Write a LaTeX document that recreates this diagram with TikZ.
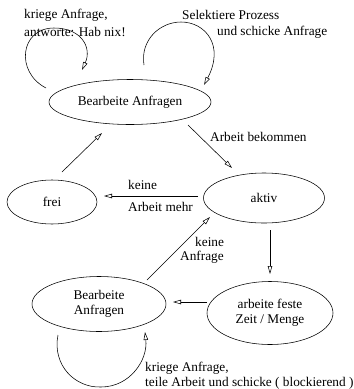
\documentclass[tikz,border=0pt]{standalone}
\usepackage{fontspec}
\setmainfont{Liberation Serif}
\usetikzlibrary{shapes.geometric,arrows.meta}
\begin{document}
\begin{tikzpicture}[x=1pt,y=-1pt,
  every node/.style={font=\fontsize{13.3}{15}\selectfont},
  st/.style={draw,ellipse,line width=0.55pt,inner sep=0pt,align=center},
  lbl/.style={anchor=west,inner sep=0pt,align=left},
  tr/.style={line width=0.55pt,-{Triangle[open,length=8pt,width=4.5pt]}}]
\useasboundingbox (0,0) rectangle (354,389);
\node[st,minimum width=162pt,minimum height=45pt] (ba) at (130,102) {Bearbeite Anfragen};
\node[st,minimum width=90pt,minimum height=44pt] (frei) at (52,202) {frei};
\node[st,minimum width=121pt,minimum height=50pt] (aktiv) at (264,198) {aktiv};
\node[st,minimum width=134pt,minimum height=55pt] (bb) at (99,304) {Bearbeite\\Anfragen};
\node[st,minimum width=126pt,minimum height=63pt] (af) at (270,313) {arbeite feste\\Zeit / Menge};
% labels
\node[lbl] (l1) at (24,15) {kriege Anfrage,};
\node[lbl] (l2) at (24,32) {antworte: Hab nix!};
\node[lbl] (l3) at (182,15) {Selektiere Prozess};
\node[lbl] (l4) at (217,32) {und schicke Anfrage};
\node[lbl] (l5) at (210,137) {Arbeit bekommen};
\node[lbl] (l6) at (128,185) {keine};
\node[lbl] (l7) at (128,207) {Arbeit mehr};
\node[lbl] (l8) at (195,242) {keine};
\node[lbl] (l9) at (180,257) {Anfrage};
\node[lbl] (l10) at (145,368) {kriege Anfrage,};
\node[lbl] (l11) at (145,383) {teile Arbeit und schicke ( blockierend )};
% straight arrows
\coordinate (a1s) at (62,172); \coordinate (a1e) at (102,133);
\draw[tr] (a1s) -- (a1e);
\coordinate (a2s) at (188,125); \coordinate (a2e) at (232,168);
\draw[tr] (a2s) -- (a2e);
\coordinate (a3s) at (198,196); \coordinate (a3e) at (104,196);
\draw[tr] (a3s) -- (a3e);
\coordinate (a4s) at (270,230); \coordinate (a4e) at (270,274);
\draw[tr] (a4s) -- (a4e);
\coordinate (a5s) at (207,302); \coordinate (a5e) at (173,302);
\draw[tr] (a5s) -- (a5e);
\coordinate (a6s) at (147,280); \coordinate (a6e) at (210,217);
\draw[tr] (a6s) -- (a6e);
% loops
\coordinate (p1s) at (46,88); \coordinate (p1e) at (82,70);
\draw[tr] (p1s) .. controls (15,72) and (20,28) .. (54,28) .. controls (82,28) and (92,48) .. (p1e);
\coordinate (p2s) at (144,65); \coordinate (p2e) at (204,85);
\draw[tr] (p2s) .. controls (140,40) and (160,22) .. (181,22) .. controls (205,22) and (225,45) .. (p2e);
\coordinate (p3s) at (58,335); \coordinate (p3e) at (145,332);
\draw[tr] (p3s) .. controls (52,365) and (75,388) .. (101,387) .. controls (130,387) and (148,360) .. (p3e);
\end{tikzpicture}
\end{document}
